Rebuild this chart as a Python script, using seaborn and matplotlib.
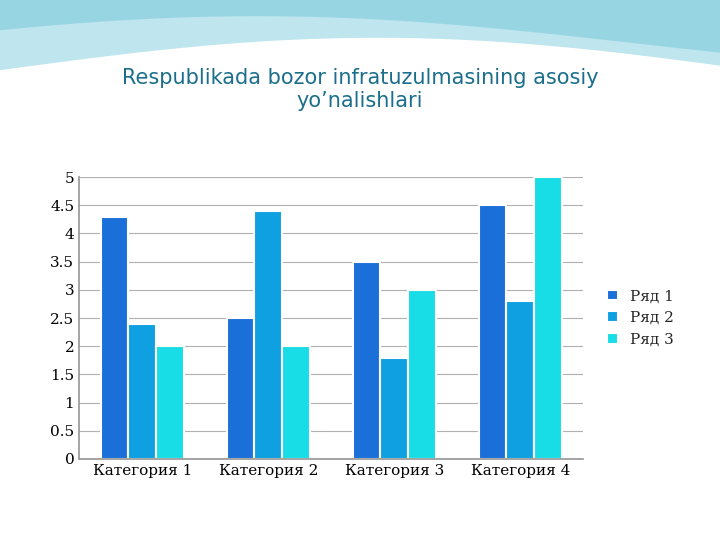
import matplotlib
matplotlib.use("Agg")
import matplotlib.pyplot as plt
import seaborn as sns
import pandas as pd
import numpy as np

categories = ["Категория 1", "Категория 2", "Категория 3", "Категория 4"]
series = ["Ряд 1", "Ряд 2", "Ряд 3"]
r1 = [4.3, 2.5, 3.5, 4.5]
r2 = [2.4, 4.4, 1.8, 2.8]
r3 = [2.0, 2.0, 3.0, 5.0]
colors = ["#1a6fd8", "#0fa0e2", "#19dde6"]

rows = []
for s, vals in zip(series, [r1, r2, r3]):
    for c, v in zip(categories, vals):
        rows.append({"cat": c, "series": s, "val": v})
df = pd.DataFrame(rows)

sns.set_theme(style="white")
plt.rcParams['font.family'] = ['DejaVu Serif']
fig = plt.figure(figsize=(7.2, 5.4), dpi=100)

bg = fig.add_axes([0, 0, 1, 1], zorder=-1)
bg.set_xlim(0, 1); bg.set_ylim(0, 1); bg.axis("off")
x = np.linspace(0, 1, 200)
bg.fill_between(x, 1, 0.87 + 0.06 * np.sin(x * 3.0), color="#bfe6ee", lw=0)
bg.fill_between(x, 1, 0.92 + 0.05 * np.sin(x * 3.0 + 0.5), color="#7fcbdc", lw=0, alpha=0.6)

fig.text(0.5, 0.835, "Respublikada bozor infratuzulmasining asosiy\nyo’nalishlari",
         ha="center", va="center", fontsize=15, color="#1c6f8c", family="DejaVu Sans",
         linespacing=1.2)

ax = fig.add_axes([0.11, 0.15, 0.70, 0.522])
sns.barplot(data=df, x="cat", y="val", hue="series", palette=colors, ax=ax,
            width=0.66, saturation=1, edgecolor="white", linewidth=1.5)
ax.set_ylim(0, 5.0)
ax.set_yticks(np.arange(0, 5.01, 0.5))
ax.set_yticklabels(["0", "0.5", "1", "1.5", "2", "2.5", "3", "3.5", "4", "4.5", "5"])
ax.set_xlabel(""); ax.set_ylabel("")
ax.grid(axis="y", color="#b0b0b0", lw=0.8)
ax.set_axisbelow(True)
for sp in ["top", "right"]:
    ax.spines[sp].set_visible(False)
for sp in ["left", "bottom"]:
    ax.spines[sp].set_color("#999999")
ax.tick_params(axis="both", labelsize=11, colors="black", length=0)
ax.legend(title=None, frameon=False, fontsize=11, loc="center left",
          bbox_to_anchor=(1.02, 0.5), handlelength=0.7, handleheight=0.7)
fig.savefig("out.png", dpi=100)
